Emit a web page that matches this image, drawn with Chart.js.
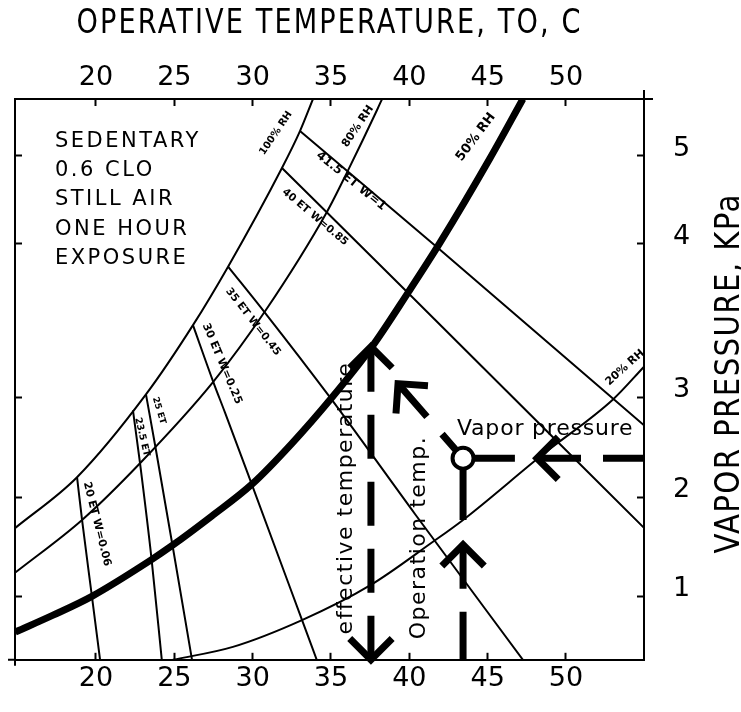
<!DOCTYPE html>
<html>
<head>
<meta charset="utf-8">
<title>Operative temperature and vapour pressure</title>
<script src="https://cdn.jsdelivr.net/npm/chart.js@4/dist/chart.umd.min.js"></script>
<style>
  html, body { margin: 0; padding: 0; background: #fff; }
  canvas { display: block; }
</style>
</head>
<body>
<canvas id="chart" width="741" height="712"></canvas>
<script>
// ---------- data: points are [operative temperature °C, vapour pressure kPa] ----------
const TEMP_TICKS = [20, 25, 30, 35, 40, 45, 50];
const VP_TICKS = [1, 2, 3, 4, 5];
const T_MIN = 14.83, T_MAX = 54.98;
const VP_MIN = 0.36, VP_MAX = 5.645;

// relative humidity curves
const RH_100 = [[14.85,1.69],[18.79,2.20],[23.19,3.02],[26.19,3.47],[28.43,3.85],[31.87,4.86],[33.02,5.28],[33.85,5.645]];
const RH_80 = [[14.85,1.24],[19.11,1.77],[22.81,2.34],[27.47,3.10],[30.79,3.56],[34.74,4.36],[36.08,4.83],[37.94,5.52],[38.26,5.645]];
const RH_50 = [[14.85,0.64],[17.26,0.81],[19.74,1.00],[23.45,1.36],[24.85,1.51],[27.40,1.81],[29.96,2.13],
  [32.51,2.54],[35.06,3.00],[37.62,3.33],[39.91,3.68],[41.96,4.01],[45.15,4.97],[47.25,5.645]];
const RH_20 = [[24.91,0.36],[28.74,0.49],[33.15,0.76],[37.49,1.11],[41.51,1.55],[43.43,1.77],[48.53,2.43],[53.00,2.98],[54.98,3.20]];

// effective temperature lines
const ET_20 = [[18.79,2.20],[19.11,1.77],[19.74,1.00],[20.26,0.36]];
const ET_23_5 = [[22.36,2.87],[22.81,2.34],[23.55,1.37],[24.20,0.36]];
const ET_25 = [[23.19,3.02],[23.83,2.47],[24.91,1.49],[26.13,0.36]];
const ET_30 = [[26.19,3.47],[27.49,3.10],[28.23,2.85],[29.94,2.13],[33.13,0.77],[34.09,0.36]];
const ET_35 = [[28.43,3.85],[30.79,3.55],[34.94,3.00],[40.36,1.83],[47.25,0.36]];
const ET_40 = [[31.87,4.86],[39.91,3.68],[54.98,1.69]];
const ET_41_5 = [[33.02,5.28],[41.96,3.96],[54.98,2.72]];

// worked example: reading guides and the state point
const STATE_POINT = [[43.43,2.39]];
const GUIDE_EFFECTIVE = [[37.55,0.36],[37.55,3.33]];
const GUIDE_ALONG_ET = [[39.28,3.09],[43.43,2.39]];
const GUIDE_VAPOR = [[54.98,2.39],[48.15,2.39]];
const GUIDE_VAPOR_STUB = [[46.74,2.39],[43.43,2.39]];
const GUIDE_OPERATIVE = [[43.43,0.36],[43.43,1.52]];
const GUIDE_OPERATIVE_STUB = [[43.43,1.77],[43.43,2.39]];

// ---------- text placed on the chart (anchors in data units) ----------
const LINE_LABELS = [
  { text: '100% RH',      t: 31.49, p: 5.256, angle: -56, size: 10 },
  { text: '80% RH',       t: 36.72, p: 5.333, angle: -56, size: 11 },
  { text: '50% RH',       t: 44.25, p: 5.211, angle: -53, size: 13 },
  { text: '20% RH',       t: 53.77, p: 3.194, angle: -42, size: 11 },
  { text: '41.5 ET W=1',  t: 36.28, p: 4.711, angle: 39,  size: 12 },
  { text: '40 ET W=0.85', t: 33.98, p: 4.300, angle: 40,  size: 10.5 },
  { text: '35 ET W=0.45', t: 30.02, p: 3.492, angle: 52,  size: 10.5 },
  { text: '30 ET W=0.25', t: 28.04, p: 3.219, angle: 67,  size: 11 },
  { text: '25 ET',        t: 24.02, p: 2.868, angle: 73,  size: 9 },
  { text: '23.5 ET',      t: 22.94, p: 2.603, angle: 77,  size: 9.5 },
  { text: '20 ET W=0.06', t: 20.06, p: 1.729, angle: 76,  size: 11 }
];
const CONDITIONS = ['SEDENTARY', '0.6 CLO', 'STILL AIR', 'ONE HOUR', 'EXPOSURE'];
const CONDITIONS_ANCHOR = { t: 17.38, p: 5.1 };
const GUIDE_TEXTS = [
  { text: 'Vapor pressure',        t: 43.04, p: 2.623, angle: 0 },
  { text: 'effective temperature', t: 36.34, p: 0.616, angle: -90 },
  { text: 'Operation temp.',       t: 41.00, p: 0.567, angle: -90 }
];
const X_TITLE = 'OPERATIVE TEMPERATURE, TO, C';
const Y_TITLE = 'VAPOR PRESSURE, KPa';

// ---------- vapour-pressure scale: the printed kPa divisions are not evenly spaced ----------
// [value kPa, fraction of plot height from the bottom]
const KPA_KNOTS = [[VP_MIN,0],[1,0.1132],[2,0.2901],[3,0.4678],[4,0.7422],[5,0.8990],[VP_MAX,1]];
function kpaToFraction(v) {
  let i = 1;
  while (i < KPA_KNOTS.length - 1 && v > KPA_KNOTS[i][0]) i++;
  const [v0, f0] = KPA_KNOTS[i - 1], [v1, f1] = KPA_KNOTS[i];
  return f0 + (v - v0) * (f1 - f0) / (v1 - v0);
}
function fractionToKpa(f) {
  let i = 1;
  while (i < KPA_KNOTS.length - 1 && f > KPA_KNOTS[i][1]) i++;
  const [v0, f0] = KPA_KNOTS[i - 1], [v1, f1] = KPA_KNOTS[i];
  return v0 + (f - f0) * (v1 - v0) / (f1 - f0);
}
class KpaScale extends Chart.LinearScale {
  getPixelForValue(value) {
    return value === null ? NaN : this.getPixelForDecimal(kpaToFraction(value));
  }
  getValueForPixel(pixel) {
    return fractionToKpa(this.getDecimalForPixel(pixel));
  }
}
KpaScale.id = 'kpa';
KpaScale.defaults = Chart.LinearScale.defaults;
Chart.register(KpaScale);

// ---------- drawing helpers ----------
const INK = '#000';
const pts = pairs => pairs.map(([x, y]) => ({ x, y }));
const thinLine = { borderColor: INK, borderWidth: 2, pointRadius: 0, cubicInterpolationMode: 'monotone', order: 2 };
const guideLine = { borderColor: INK, borderWidth: 7, pointRadius: 0, tension: 0, borderCapStyle: 'butt', order: 1 };

function drawHead(ctx, tip, from, width) {
  const ang = Math.atan2(tip.y - from.y, tip.x - from.x);
  const len = 30, spread = 45 * Math.PI / 180;
  ctx.save();
  ctx.strokeStyle = INK;
  ctx.lineWidth = width;
  ctx.lineJoin = 'miter';
  ctx.lineCap = 'butt';
  ctx.beginPath();
  ctx.moveTo(tip.x + len * Math.cos(ang + Math.PI - spread), tip.y + len * Math.sin(ang + Math.PI - spread));
  ctx.lineTo(tip.x, tip.y);
  ctx.lineTo(tip.x + len * Math.cos(ang + Math.PI + spread), tip.y + len * Math.sin(ang + Math.PI + spread));
  ctx.stroke();
  ctx.restore();
}

function drawText(ctx, text, x, y, opts) {
  ctx.save();
  ctx.translate(x, y);
  ctx.rotate((opts.angle || 0) * Math.PI / 180);
  ctx.scale(opts.stretch || 1, 1);
  ctx.font = opts.font;
  ctx.letterSpacing = (opts.spacing || 0) + 'px';
  ctx.textAlign = opts.align || 'left';
  ctx.textBaseline = opts.baseline || 'alphabetic';
  ctx.fillStyle = INK;
  ctx.fillText(text, 0, 0);
  ctx.restore();
}

const notesPlugin = {
  id: 'chartNotes',
  afterDatasetsDraw(chart) {
    chart.data.datasets.forEach((ds, i) => {
      if (!ds.arrowHead) return;
      const el = chart.getDatasetMeta(i).data;
      const ends = ds.arrowHead === 'both' ? ['start', 'end'] : [ds.arrowHead];
      ends.forEach(end => {
        const tip = end === 'end' ? el[el.length - 1] : el[0];
        const from = end === 'end' ? el[el.length - 2] : el[1];
        drawHead(chart.ctx, tip, from, ds.borderWidth);
      });
    });
  },
  afterDraw(chart) {
    const ctx = chart.ctx;
    const sx = chart.scales.x, sy = chart.scales.y;
    const area = chart.chartArea;
    const X = t => sx.getPixelForValue(t), Y = p => sy.getPixelForValue(p);

    // frame lines run slightly past two corners
    ctx.save();
    ctx.strokeStyle = INK;
    ctx.lineWidth = 2;
    ctx.beginPath();
    ctx.moveTo(area.right, area.top); ctx.lineTo(area.right + 9, area.top);
    ctx.moveTo(area.right, area.top); ctx.lineTo(area.right, area.top - 9);
    ctx.moveTo(area.left, area.bottom); ctx.lineTo(area.left - 7, area.bottom);
    ctx.moveTo(area.left, area.bottom); ctx.lineTo(area.left, area.bottom + 6);
    ctx.stroke();
    ctx.restore();

    LINE_LABELS.forEach(l => drawText(ctx, l.text, X(l.t), Y(l.p), {
      font: `bold ${l.size}px "DejaVu Sans"`, angle: l.angle, align: 'center', baseline: 'middle'
    }));

    CONDITIONS.forEach((line, k) => drawText(ctx, line, X(CONDITIONS_ANCHOR.t), Y(CONDITIONS_ANCHOR.p) + k * 29.3, {
      font: '21px "DejaVu Sans"', spacing: 2.5
    }));

    GUIDE_TEXTS.forEach(g => drawText(ctx, g.text, X(g.t), Y(g.p), {
      font: '22px "DejaVu Sans"', angle: g.angle, spacing: g.angle ? 1.5 : 0.8
    }));

    drawText(ctx, X_TITLE, (area.left + area.right) / 2, 33, {
      font: '34px "DejaVu Sans"', align: 'center', stretch: 0.8, spacing: 2.6
    });
    drawText(ctx, Y_TITLE, 739, (area.top + area.bottom) / 2 - 6, {
      font: '34px "DejaVu Sans"', align: 'center', angle: -90, stretch: 0.86, spacing: 1.6
    });
  }
};

const tickFont = { family: '"DejaVu Sans"', size: 27, lineHeight: 1.2 };
const axisGrid = { drawOnChartArea: false, drawTicks: true, tickLength: -7, tickWidth: 2, tickColor: INK };
const axisBorder = { display: true, color: INK, width: 2 };
const tempTicks = s => { s.ticks = TEMP_TICKS.map(v => ({ value: v })); };
const kpaTicks = s => { s.ticks = VP_TICKS.map(v => ({ value: v })); };

new Chart(document.getElementById('chart'), {
  type: 'line',
  data: {
    datasets: [
      { label: 'state point', data: pts(STATE_POINT), showLine: false, pointRadius: 10.5, pointBorderWidth: 4,
        pointBackgroundColor: '#fff', pointBorderColor: INK, order: 0 },

      { label: '100% RH', data: pts(RH_100), ...thinLine },
      { label: '80% RH', data: pts(RH_80), ...thinLine },
      { label: '50% RH', data: pts(RH_50), ...thinLine, borderWidth: 7 },
      { label: '20% RH', data: pts(RH_20), ...thinLine },

      { label: '20 ET', data: pts(ET_20), ...thinLine },
      { label: '23.5 ET', data: pts(ET_23_5), ...thinLine },
      { label: '25 ET', data: pts(ET_25), ...thinLine },
      { label: '30 ET', data: pts(ET_30), ...thinLine },
      { label: '35 ET', data: pts(ET_35), ...thinLine },
      { label: '40 ET', data: pts(ET_40), ...thinLine },
      { label: '41.5 ET', data: pts(ET_41_5), ...thinLine },

      { label: 'effective temperature', data: pts(GUIDE_EFFECTIVE), ...guideLine, borderDash: [44, 23], arrowHead: 'both' },
      { label: 'along ET', data: pts(GUIDE_ALONG_ET), ...guideLine, borderDash: [44, 23], arrowHead: 'start' },
      { label: 'vapor pressure', data: pts(GUIDE_VAPOR), ...guideLine, borderDash: [41, 22], arrowHead: 'end' },
      { label: 'vapor pressure stub', data: pts(GUIDE_VAPOR_STUB), ...guideLine },
      { label: 'operative temperature', data: pts(GUIDE_OPERATIVE), ...guideLine, borderDash: [48, 23], arrowHead: 'end' },
      { label: 'operative temperature stub', data: pts(GUIDE_OPERATIVE_STUB), ...guideLine }
    ]
  },
  options: {
    responsive: false,
    animation: false,
    devicePixelRatio: 1,
    events: [],
    layout: { padding: 0 },
    plugins: { legend: { display: false }, tooltip: { enabled: false } },
    scales: {
      x: {
        type: 'linear', position: 'bottom', min: T_MIN, max: T_MAX,
        afterBuildTicks: tempTicks,
        afterFit: s => { s.height = 39; },
        grid: axisGrid, border: axisBorder,
        ticks: { color: INK, font: tickFont, padding: 10, maxRotation: 0, autoSkip: false }
      },
      xTop: {
        type: 'linear', position: 'top', min: T_MIN, max: T_MAX,
        afterBuildTicks: tempTicks,
        afterFit: s => { s.height = 99; },
        grid: axisGrid, border: axisBorder,
        ticks: { color: INK, font: tickFont, padding: 12, maxRotation: 0, autoSkip: false }
      },
      y: {
        type: 'kpa', position: 'right', min: VP_MIN, max: VP_MAX,
        afterBuildTicks: kpaTicks,
        afterFit: s => { s.width = 97; },
        grid: axisGrid, border: axisBorder,
        ticks: { color: INK, font: tickFont, padding: 36, labelOffset: -7, callback: v => String(v) }
      },
      yLeft: {
        type: 'kpa', position: 'left', min: VP_MIN, max: VP_MAX,
        afterBuildTicks: kpaTicks,
        afterFit: s => { s.width = 15; },
        grid: axisGrid, border: axisBorder,
        ticks: { display: false }
      }
    }
  },
  plugins: [notesPlugin]
});
</script>
</body>
</html>
